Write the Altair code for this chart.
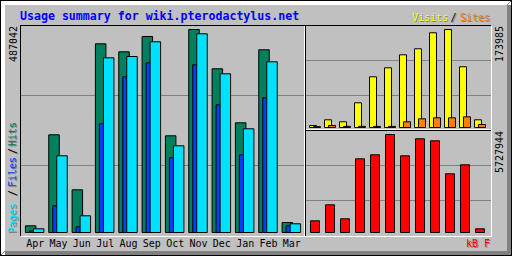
import altair as alt
import pandas as pd

# ---------------- data ----------------
months = ["Apr", "May", "Jun", "Jul", "Aug", "Sep", "Oct", "Nov", "Dec", "Jan", "Feb", "Mar"]
hits = [16100, 234400, 102450, 452730, 433540, 470250, 232000, 487042, 392750, 263190, 438330, 23990]
files = [3600, 64060, 13680, 260790, 373550, 407150, 179220, 402350, 306380, 186420, 323170, 16075]
pages = [8880, 184020, 40070, 419140, 422260, 457530, 208010, 476720, 380750, 248800, 409540, 20870]
visits = [3500, 13670, 10120, 43850, 90010, 105990, 129070, 139720, 168130, 173985, 107770, 13670]
sites = [1500, 3500, 2000, 2000, 2000, 2000, 10100, 15450, 17200, 17200, 19000, 5300]
kbytes = [683840, 1619000, 800740, 4307600, 4541400, 5727944, 4482960, 5476600, 5359700, 3430900, 3956900, 216260]

title_text = "Usage summary for wiki.pterodactylus.net"

df = pd.DataFrame({"month": months, "hits": hits, "files": files, "pages": pages,
                   "visits": visits, "sites": sites, "kbytes": kbytes})

# ---------------- styles ----------------
MONO = "DejaVu Sans Mono"
GREY = "#C0C0C0"
DK = "#808080"
WHITE = "#FFFFFF"
BLACK = "#000000"
C_HITS, C_FILES, C_PAGES = "#00805C", "#0040FF", "#00E0FF"
C_VISITS, C_SITES, C_KB = "#FFFF00", "#FF8000", "#FF0000"

one = alt.Data(values=[{"k": 0}])
layers = []


def line(x1, x2, y1, y2, color):
    return alt.Chart(one).mark_rule(color=color, strokeWidth=1, strokeCap="butt").encode(
        x=alt.value(x1), x2=alt.value(x2), y=alt.value(y1), y2=alt.value(y2))


def hline(y, xa, xb, color):
    return line(xa, xb + 1, y + 0.5, y + 0.5, color)


def vline(x, ya, yb, color):
    return line(x + 0.5, x + 0.5, ya, yb + 1, color)


def text(s, x, y, color, size=10, align="left", angle=0, bold=False, baseline="alphabetic"):
    return alt.Chart(one).mark_text(text=s, font=MONO, fontSize=size, color=color, align=align,
                                    baseline=baseline, angle=angle,
                                    fontWeight="bold" if bold else "normal").encode(
        x=alt.value(x), y=alt.value(y))


# outer bevel
for i in range(5):
    layers.append(hline(i, i, 511, WHITE))
    layers.append(vline(i, i, 255, WHITE))
    layers.append(hline(255 - i, i, 511 - i, DK))
    layers.append(vline(511 - i, i, 255 - i, DK))
layers += [hline(0, 0, 511, BLACK), hline(255, 0, 511, BLACK), vline(0, 0, 255, BLACK), vline(511, 0, 255, BLACK)]

# inner frame
layers += [hline(25, 20, 490, BLACK), vline(20, 25, 235, BLACK),
           vline(491, 26, 236, WHITE), hline(236, 21, 491, WHITE)]

# grid lines
layers += [hline(95, 21, 303, DK), hline(165, 21, 303, DK),
           hline(60, 306, 490, DK), hline(95, 306, 490, DK),
           hline(165, 306, 490, DK), hline(200, 306, 490, DK)]

# dividers
layers += [vline(304, 26, 235, WHITE), vline(305, 25, 235, BLACK),
           hline(129, 306, 490, WHITE), hline(130, 305, 490, BLACK)]

# scales
main_x = alt.Scale(type="band", domain=months, range=[25, 305], paddingInner=0, paddingOuter=0)
right_x = alt.Scale(type="band", domain=months, range=[306, 486], paddingInner=0, paddingOuter=0)
main_y = alt.Scale(domain=[0, max(hits)], range=[232.5, 29.5], nice=False, zero=True)
tr_y = alt.Scale(domain=[0, max(visits)], range=[127.5, 29.5], nice=False, zero=True)
br_y = alt.Scale(domain=[0, max(kbytes)], range=[232.5, 134.5], nice=False, zero=True)


def bars(field, color, xs, ys, w, off):
    return alt.Chart(df).mark_bar(width=w, xOffset=off, fill=color, stroke=BLACK,
                                  strokeWidth=1, opacity=1).encode(
        x=alt.X("month:N", scale=xs, axis=None),
        y=alt.Y(f"{field}:Q", scale=ys, axis=None),
    )


layers += [bars("hits", C_HITS, main_x, main_y, 10.5, -6),
           bars("files", C_FILES, main_x, main_y, 10.5, -2),
           bars("pages", C_PAGES, main_x, main_y, 10.5, 2),
           bars("visits", C_VISITS, right_x, tr_y, 7, -0.5),
           bars("sites", C_SITES, right_x, tr_y, 7, 3.5),
           bars("kbytes", C_KB, right_x, br_y, 9, 1.5)]

# month labels
layers.append(alt.Chart(df).mark_text(font=MONO, fontSize=10, color=BLACK, baseline="alphabetic",
                                      dx=-1.5).encode(
    x=alt.X("month:N", scale=main_x, axis=None), y=alt.value(246.5), text="month:N"))

# title
layers.append(text(title_text, 20, 20, "#0000FF", size=11.6, bold=True))

# legends with shadow
def shadowed(s, x, y, color, **kw):
    return [text(s, x + 1, y + 1, DK, **kw), text(s, x, y, color, **kw)]

layers += shadowed("Visits", 412, 21, C_VISITS)
layers += shadowed("/", 453.5, 21, BLACK, align="center")
layers += shadowed("Sites", 460, 21, C_SITES)
layers += shadowed("kB F", 490, 246.5, C_KB, align="right")

rot = dict(angle=270, baseline="middle")
layers += shadowed("Pages", 12.5, 233, C_PAGES, **rot)
layers += shadowed("/", 12.5, 196, BLACK, **rot)
layers += shadowed("Files", 12.5, 187, C_FILES, **rot)
layers += shadowed("/", 12.5, 154, BLACK, **rot)
layers += shadowed("Hits", 12.5, 146, C_HITS, **rot)

# max values
layers.append(text(str(max(hits)), 13.5, 62, BLACK, **rot))
layers.append(text(str(max(visits)), 500, 62, BLACK, **rot))
layers.append(text(str(max(kbytes)), 500, 173, BLACK, **rot))

chart = alt.layer(*layers).resolve_scale(x="independent", y="independent").properties(
    width=512, height=256, padding=0,
    autosize=alt.AutoSizeParams(type="none"), background=GREY,
).configure_view(stroke=None)

chart.save("out.html", embed_options={"renderer": "svg", "actions": False})
